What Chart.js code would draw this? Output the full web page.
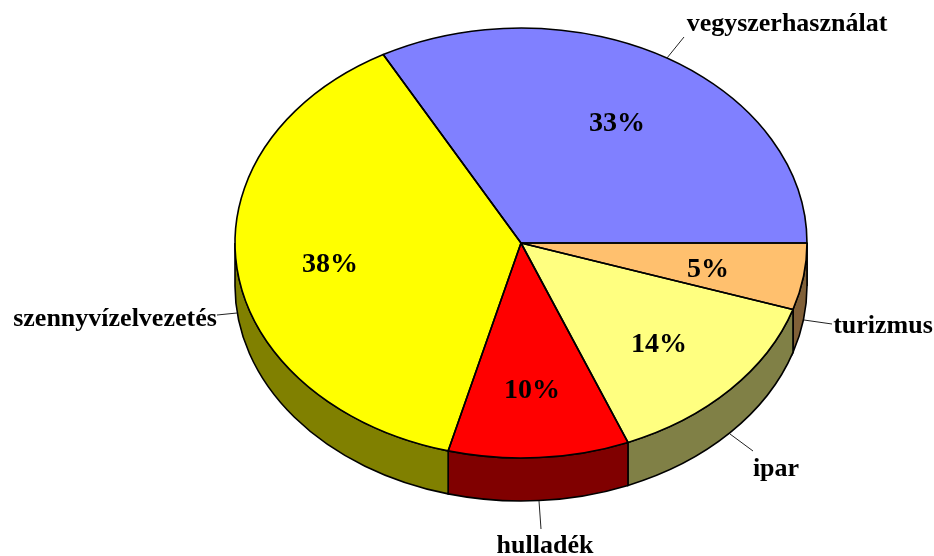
<!DOCTYPE html>
<html>
<head>
<meta charset="utf-8">
<style>html,body{margin:0;padding:0;background:#fff}canvas{display:block}</style>
<script src="https://cdn.jsdelivr.net/npm/chart.js@4"></script>
</head>
<body>
<canvas id="c" width="934" height="556"></canvas>
<script>
const categories = ['vegyszerhasználat','turizmus','ipar','hulladék','szennyvízelvezetés'];
const shares = [33,5,13.9,10.2,37.9];
const faceColors = ['#8080FF','#FFC06E','#FFFF80','#FF0000','#FFFF00'];
const wallColors = ['#404080','#806038','#808046','#800000','#808000'];
const percentLabels = ['33%','5%','14%','10%','38%'];

const percentAnchors = [[617,124],[708,270],[659,345],[532,391],[330,265]];
const nameAnchors = [[787,31],[883,333],[776,476],[545,553],[115,326]];
const leaders = [[667,58,684,37],[804,320,832,324],[730,434,753,451],[539,501,541,529],[237,313,217,315]];
const ASPECT_X = 286/215, DEPTH = 43;

const pie3d = {
  id:'pie3d',
  beforeDatasetsDraw(chart){
    const ctx = chart.ctx, arcs = chart.getDatasetMeta(0).data;
    const {x:cx,y:cy,outerRadius:r} = arcs[0];
    const rx = r*ASPECT_X;
    ctx.save();
    arcs.forEach((a,i)=>{
      let s = a.startAngle, e = a.endAngle;
      const T = Math.PI*2;
      while (e > T) { s -= T; e -= T; }
      const lo = Math.max(s,0), hi = Math.min(e,Math.PI);
      if (hi <= lo) return;
      ctx.beginPath();
      ctx.ellipse(cx,cy+DEPTH,rx,r,0,lo,hi,false);
      ctx.ellipse(cx,cy,rx,r,0,hi,lo,true);
      ctx.closePath();
      ctx.fillStyle = wallColors[i];
      ctx.fill();
      ctx.lineWidth = 1.6;
      ctx.strokeStyle = '#000';
      ctx.stroke();
    });
    ctx.restore();
    ctx.save();
    ctx.translate(cx,cy);
    ctx.scale(ASPECT_X,1);
    ctx.translate(-cx,-cy);
  },
  afterDatasetsDraw(chart){
    const ctx = chart.ctx, arcs = chart.getDatasetMeta(0).data;
    ctx.restore();
    const {x:cx,y:cy,outerRadius:r} = arcs[0];
    const rx = r*ASPECT_X;
    ctx.save();
    ctx.strokeStyle = '#000';
    ctx.lineWidth = 1.6;
    ctx.lineJoin = 'round';
    arcs.forEach(a=>{
      ctx.beginPath();
      ctx.moveTo(cx,cy);
      ctx.ellipse(cx,cy,rx,r,0,a.startAngle,a.endAngle,false);
      ctx.closePath();
      ctx.stroke();
    });
    ctx.lineWidth = 1;
    ctx.strokeStyle = '#222';
    leaders.forEach(l=>{
      ctx.beginPath();ctx.moveTo(l[0],l[1]);ctx.lineTo(l[2],l[3]);ctx.stroke();
    });
    ctx.fillStyle = '#000';
    ctx.textAlign = 'center';
    ctx.textBaseline = 'alphabetic';
    ctx.font = 'bold 26px "Liberation Serif"';
    categories.forEach((t,i)=>ctx.fillText(t,nameAnchors[i][0],nameAnchors[i][1]));
    ctx.textBaseline = 'middle';
    ctx.font = 'bold 28px "Liberation Serif"';
    percentLabels.forEach((t,i)=>ctx.fillText(t,percentAnchors[i][0],percentAnchors[i][1]));
    ctx.restore();
  }
};

new Chart(document.getElementById('c'),{
  type:'pie',
  data:{labels:categories,datasets:[{data:shares,backgroundColor:faceColors,borderWidth:0,clip:false}]},
  options:{
    responsive:false,
    animation:false,
    rotation:-28.8,
    layout:{padding:{left:108,right:0,top:28,bottom:98}},
    plugins:{legend:{display:false},tooltip:{enabled:false},title:{display:false}}
  },
  plugins:[pie3d]
});
</script>
</body>
</html>
